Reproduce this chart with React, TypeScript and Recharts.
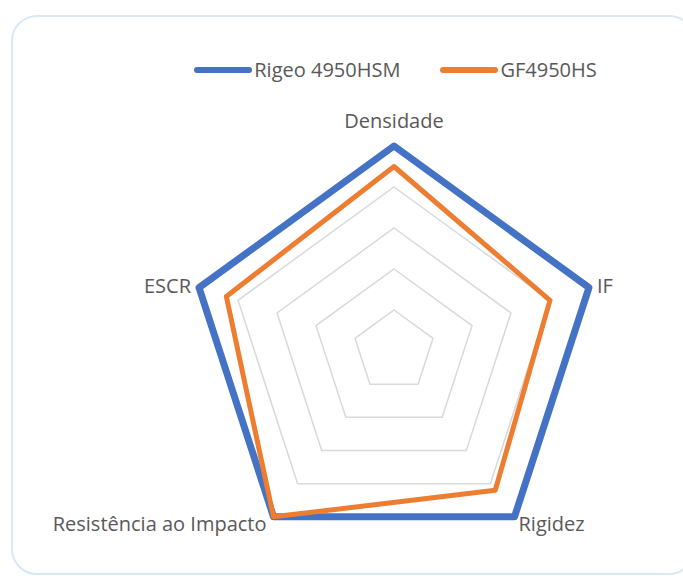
import { Legend, PolarAngleAxis, PolarGrid, PolarRadiusAxis, Radar, RadarChart } from "recharts";

// eixos e valores (escala 0–5)
const axes = ["Densidade", "IF", "Rigidez", "Resistência ao Impacto", "ESCR"];
const rigeo = [5, 5, 5, 5, 5];
const gf = [4.5, 4.0, 4.2, 5, 4.3];

const COLORS = {
  rigeo: "#4472C4",
  gf: "#ED7D31",
  grid: "#D9D9D9",
  text: "#595959",
};

const FONT = "'Open Sans', 'Noto Sans', sans-serif";

const rows = axes.map((axis, i) => ({ axis, rigeo: rigeo[i], gf: gf[i] }));

// posição de cada rótulo em relação ao vértice
const LABEL_POS: Record<string, { dx: number; dy: number; anchor: "start" | "middle" | "end" }> = {
  Densidade: { dx: 0, dy: -18, anchor: "middle" },
  IF: { dx: 8, dy: 5, anchor: "start" },
  Rigidez: { dx: 4, dy: 14, anchor: "start" },
  "Resistência ao Impacto": { dx: -7, dy: 14, anchor: "end" },
  ESCR: { dx: -8, dy: 5, anchor: "end" },
};

function AxisTick(props: any) {
  const { payload, x, y, cx, cy } = props;
  const name = String(payload.value);
  const pos = LABEL_POS[name] ?? { dx: 0, dy: 0, anchor: "middle" };
  // puxa o ponto de volta até o raio externo
  const r = 205;
  const ang = Math.atan2(y - cy, x - cx);
  const px = cx + r * Math.cos(ang);
  const py = cy + r * Math.sin(ang);
  return (
    <text
      x={px + pos.dx}
      y={py + pos.dy}
      textAnchor={pos.anchor}
      fill={COLORS.text}
      fontSize={20}
      fontFamily={FONT}
    >
      {name}
    </text>
  );
}

function LegendBox() {
  const items = [
    { label: "Rigeo 4950HSM", color: COLORS.rigeo },
    { label: "GF4950HS", color: COLORS.gf },
  ];
  return (
    <div style={{ display: "flex", justifyContent: "center", gap: 40, fontFamily: FONT, fontSize: 20, color: COLORS.text }}>
      {items.map((it) => (
        <div key={it.label} style={{ display: "flex", alignItems: "center" }}>
          <span style={{ display: "inline-block", width: 58, height: 6, borderRadius: 3, background: it.color, marginRight: 2 }} />
          {it.label}
        </div>
      ))}
    </div>
  );
}

export default function App() {
  return (
    <div style={{ position: "absolute", left: 0, top: 0, width: 683, height: 581, background: "#fff", overflow: "hidden" }}>
      <div
        style={{
          position: "absolute",
          left: 11,
          top: 15,
          width: 680,
          height: 556,
          border: "2px solid #DAE8F5",
          borderRadius: 26,
        }}
      />
      <div style={{ position: "absolute", left: 0, top: 0 }}>
        <RadarChart width={683} height={581} data={rows} cx={394} cy={351} outerRadius={205}>
          <PolarGrid gridType="polygon" radialLines={false} stroke={COLORS.grid} strokeWidth={1.5} />
          <PolarAngleAxis dataKey="axis" tick={<AxisTick />} tickLine={false} axisLine={false} />
          <PolarRadiusAxis domain={[0, 5]} tickCount={6} tick={false} axisLine={false} />
          <Radar
            name="Rigeo 4950HSM"
            dataKey="rigeo"
            stroke={COLORS.rigeo}
            strokeWidth={7}
            strokeLinejoin="round"
            fill="none"
            fillOpacity={0}
            isAnimationActive={false}
          />
          <Radar
            name="GF4950HS"
            dataKey="gf"
            stroke={COLORS.gf}
            strokeWidth={5}
            strokeLinejoin="round"
            fill="none"
            fillOpacity={0}
            isAnimationActive={false}
          />
          <Legend
            verticalAlign="top"
            content={<LegendBox />}
            wrapperStyle={{ top: 56, left: 0, width: 683, paddingLeft: 54 }}
          />
        </RadarChart>
      </div>
    </div>
  );
}
